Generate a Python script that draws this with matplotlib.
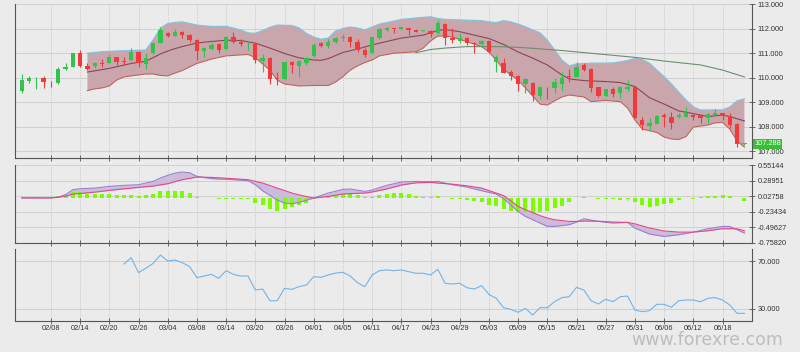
import numpy as np
import matplotlib
matplotlib.use("Agg")
import matplotlib.pyplot as plt
from matplotlib.transforms import blended_transform_factory

plt.rcParams["font.family"] = ["Liberation Sans", "DejaVu Sans"]

# daily candles, index 0..99
OPEN = [109.47, 109.86, 109.98, 109.97, 109.84, 109.79, 110.34, 110.45, 111.00, 110.48,
        110.48, 110.61, 110.61, 110.84, 110.68, 110.72, 111.06, 110.56, 111.00, 111.41,
        111.81, 111.72, 111.85, 111.74, 111.54, 111.10, 111.17, 111.36, 111.16, 111.67,
        111.47, 111.40, 111.38, 110.69, 110.79, 110.00, 109.93, 110.63, 110.48, 110.59,
        110.90, 111.40, 111.29, 111.45, 111.63, 111.67, 111.47, 111.13, 111.00, 111.61,
        111.95, 112.02, 111.98, 112.03, 111.95, 111.91, 111.92, 111.84, 112.19, 111.61,
        111.50, 111.61, 111.43, 111.36, 111.51, 110.65, 110.61, 110.24, 110.08, 109.74,
        109.79, 109.25, 109.62, 109.57, 109.72, 110.07, 110.04, 110.52, 110.34, 109.61,
        109.25, 109.53, 109.36, 109.53, 109.61, 108.27, 108.02, 108.10, 108.47, 108.40,
        108.40, 108.40, 108.47, 108.47, 108.34, 108.47, 108.54, 108.43, 108.10, 107.27]
HIGH = [110.15, 110.07, 110.03, 110.07, 109.87, 110.42, 110.61, 111.02, 111.13, 110.59,
        110.63, 110.76, 110.96, 110.86, 110.83, 111.23, 111.10, 111.02, 111.45, 112.06,
        111.87, 112.01, 111.90, 111.79, 111.57, 111.27, 111.40, 111.40, 111.70, 111.88,
        111.57, 111.44, 111.47, 110.95, 110.86, 110.24, 110.65, 110.69, 110.72, 110.86,
        111.40, 111.47, 111.57, 111.65, 111.77, 111.70, 111.57, 111.20, 111.67, 112.02,
        112.08, 112.04, 112.08, 112.04, 111.97, 111.95, 111.95, 112.36, 112.22, 112.02,
        111.81, 111.65, 111.47, 111.54, 111.54, 110.93, 110.79, 110.31, 110.11, 109.97,
        109.84, 109.66, 109.63, 109.97, 110.24, 110.34, 110.65, 110.59, 110.38, 109.63,
        109.55, 109.61, 109.66, 109.90, 109.63, 108.40, 108.34, 108.47, 108.57, 108.61,
        108.57, 108.79, 108.51, 108.50, 108.54, 108.70, 108.57, 108.54, 108.13, 107.33]
LOW = [109.38, 109.79, 109.52, 109.59, 109.63, 109.74, 110.31, 110.42, 110.42, 110.31,
       110.40, 110.42, 110.59, 110.52, 110.52, 110.69, 110.42, 110.35, 110.97, 111.40,
       111.68, 111.69, 111.61, 111.47, 110.72, 110.86, 111.15, 111.00, 111.13, 111.40,
       111.29, 111.13, 110.59, 110.24, 109.73, 109.70, 109.90, 110.18, 110.04, 110.52,
       110.86, 111.24, 111.20, 111.40, 111.51, 111.27, 111.06, 110.83, 110.97, 111.57,
       111.92, 111.81, 111.95, 111.74, 111.85, 111.89, 111.67, 111.78, 111.34, 111.40,
       111.40, 111.34, 111.02, 111.34, 111.02, 110.24, 110.18, 109.90, 109.47, 109.36,
       109.06, 109.11, 109.11, 109.38, 109.47, 109.84, 110.01, 110.29, 109.43, 109.22,
       109.22, 109.20, 109.16, 109.47, 108.34, 107.86, 107.86, 108.10, 108.00, 107.89,
       108.34, 108.38, 108.27, 108.13, 108.13, 108.45, 108.27, 107.93, 107.18, 107.26]
CLOSE = [109.90, 109.97, 110.00, 109.81, 109.82, 110.35, 110.45, 111.00, 110.48, 110.35,
         110.61, 110.56, 110.86, 110.65, 110.63, 111.06, 110.59, 110.79, 111.41, 111.95,
         111.72, 111.85, 111.74, 111.54, 111.10, 111.20, 111.34, 111.13, 111.67, 111.47,
         111.38, 111.42, 110.72, 110.79, 109.93, 109.93, 110.63, 110.52, 110.69, 110.79,
         111.34, 111.31, 111.47, 111.63, 111.65, 111.47, 111.13, 110.93, 111.65, 111.99,
         112.04, 112.00, 112.06, 111.95, 111.88, 111.93, 111.78, 112.22, 111.61, 111.54,
         111.63, 111.40, 111.36, 111.50, 111.06, 110.86, 110.20, 110.07, 109.74, 109.93,
         109.29, 109.61, 109.60, 109.84, 110.00, 110.02, 110.45, 110.31, 109.56, 109.25,
         109.53, 109.33, 109.61, 109.61, 108.34, 108.06, 108.13, 108.43, 108.38, 108.16,
         108.47, 108.54, 108.38, 108.34, 108.51, 108.54, 108.43, 108.06, 107.29, 107.31]
LAST_PRICE = 107.288

DATE_LABELS = ["02/08", "02/14", "02/20", "02/26", "03/04", "03/08", "03/14", "03/20",
               "03/26", "04/01", "04/05", "04/11", "04/17", "04/23", "04/29", "05/03",
               "05/09", "05/15", "05/21", "05/27", "05/31", "06/06", "06/12", "06/18"]
DATE_IDX = list(range(4, 100, 4))

# bollinger bands and long moving average (read at the listed candles)
BB_UP_IDX = [9, 11, 13, 15, 17, 18, 19, 20, 21, 22, 24, 26, 28, 30, 31, 32, 33, 34, 35, 37,
             38, 39, 40, 41, 42, 43, 44, 45, 46, 47, 48, 49, 50, 52, 54, 56, 57, 58, 60, 63,
             64, 65, 66, 67, 68, 69, 70, 71, 72, 73, 74, 75, 76, 78, 81, 83, 84, 85, 86, 87,
             88, 89, 90, 91, 92, 93, 95, 96, 97, 98, 99]
BB_UP = [111.00, 111.06, 111.09, 111.11, 111.13, 111.54, 112.02, 112.21, 112.26, 112.28,
         112.15, 112.09, 112.10, 111.95, 111.83, 111.81, 111.93, 112.06, 112.15, 112.13,
         112.03, 111.81, 111.66, 111.57, 111.62, 111.91, 112.01, 112.07, 112.03, 111.95,
         112.07, 112.19, 112.25, 112.38, 112.44, 112.49, 112.42, 112.38, 112.36, 112.33,
         112.28, 112.25, 112.33, 112.28, 112.19, 112.08, 111.95, 111.83, 111.54, 111.13,
         110.72, 110.48, 110.56, 110.59, 110.60, 110.70, 110.79, 110.74, 110.59, 110.31,
         110.04, 109.74, 109.41, 109.09, 108.80, 108.68, 108.68, 108.68, 108.80, 109.05,
         109.13]
BB_LO_IDX = [9, 10, 11, 12, 13, 14, 15, 16, 17, 18, 19, 20, 21, 22, 23, 24, 26, 28, 30, 31,
             32, 33, 34, 35, 36, 38, 40, 42, 43, 44, 45, 46, 47, 48, 49, 51, 54, 55, 56, 57,
             58, 59, 61, 63, 64, 65, 66, 67, 68, 69, 70, 71, 72, 73, 74, 75, 77, 78, 80, 82,
             83, 84, 85, 87, 88, 89, 90, 91, 92, 94, 95, 96, 97, 98, 99]
BB_LO = [109.47, 109.54, 109.58, 109.66, 109.90, 110.03, 110.07, 110.11, 110.15, 110.15,
         110.09, 110.07, 110.19, 110.29, 110.44, 110.58, 110.76, 110.89, 110.93, 110.95,
         110.82, 110.56, 110.31, 109.90, 109.74, 109.66, 109.68, 109.68, 109.82, 110.04,
         110.31, 110.48, 110.62, 110.72, 110.89, 111.00, 111.06, 111.21, 111.50, 111.70,
         111.70, 111.66, 111.47, 111.27, 111.05, 110.72, 110.35, 110.11, 109.90, 109.58,
         109.25, 108.92, 108.88, 109.05, 109.21, 109.29, 109.21, 109.02, 109.07, 109.02,
         108.76, 108.27, 107.90, 107.76, 107.57, 107.49, 107.47, 107.59, 107.98, 108.06,
         108.15, 108.17, 107.90, 107.41, 107.16]
BB_MID_IDX = [9, 12, 15, 17, 18, 19, 20, 21, 22, 24, 26, 28, 30, 32, 34, 36, 38, 40, 41, 42,
              44, 46, 48, 50, 52, 55, 57, 58, 60, 62, 64, 66, 68, 70, 72, 74, 75, 77, 80, 82,
              84, 86, 88, 90, 92, 94, 96, 97, 99]
BB_MID = [110.23, 110.38, 110.58, 110.67, 110.82, 110.97, 111.09, 111.19, 111.27, 111.42,
          111.48, 111.53, 111.52, 111.41, 111.21, 110.99, 110.81, 110.72, 110.71, 110.78,
          111.03, 111.17, 111.34, 111.48, 111.62, 111.74, 111.93, 111.97, 111.88, 111.74,
          111.60, 111.36, 111.05, 110.80, 110.52, 110.11, 109.95, 109.88, 109.84, 109.80,
          109.64, 109.18, 108.92, 108.64, 108.53, 108.41, 108.47, 108.41, 108.23]
MA_IDX = [54, 56, 58, 61, 65, 68, 70, 74, 79, 84, 88, 93, 96, 99]
MA_LONG = [111.02, 111.15, 111.21, 111.27, 111.27, 111.24, 111.20, 111.11, 110.97, 110.83,
           110.68, 110.52, 110.31, 110.03]

# MACD panel
MACD_IDX = [0, 4, 5, 6, 7, 8, 10, 12, 14, 16, 18, 19, 20, 21, 22, 23, 24, 26, 29, 31,
            32, 33, 35, 36, 37, 38, 40, 42, 44, 45, 47, 48, 50, 52, 54, 56, 57, 59, 61, 63,
            65, 66, 68, 69, 71, 72, 73, 75, 76, 77, 79, 81, 83, 84, 86, 88, 90, 92, 94, 96,
            97, 98, 99]
MACD = [0.0, 0.0, 0.014, 0.054, 0.138, 0.155, 0.166, 0.195, 0.212, 0.223,
        0.279, 0.336, 0.381, 0.420, 0.437, 0.426, 0.364, 0.325, 0.308, 0.291,
        0.223, 0.121, -0.037, -0.087, -0.099, -0.076, -0.003, 0.082, 0.144, 0.150,
        0.110, 0.133, 0.212, 0.268, 0.279, 0.274, 0.279, 0.223, 0.183, 0.121,
        0.065, -0.010, -0.229, -0.313, -0.426, -0.483, -0.483, -0.454, -0.409, -0.353,
        -0.398, -0.426, -0.415, -0.511, -0.612, -0.652, -0.624, -0.579, -0.522, -0.483,
        -0.483, -0.539, -0.595]
SIGNAL = [0.0, 0.0, 0.010, 0.030, 0.065, 0.075, 0.097, 0.127, 0.153, 0.177,
          0.200, 0.220, 0.240, 0.275, 0.308, 0.330, 0.353, 0.347, 0.325, 0.308,
          0.280, 0.251, 0.166, 0.124, 0.082, 0.050, -0.003, 0.025, 0.065, 0.072,
          0.082, 0.100, 0.150, 0.217, 0.255, 0.262, 0.251, 0.232, 0.204, 0.166,
          0.082, 0.040, -0.144, -0.200, -0.300, -0.341, -0.370, -0.398, -0.398, -0.392,
          -0.395, -0.409, -0.415, -0.440, -0.510, -0.560, -0.579, -0.579, -0.556, -0.522,
          -0.522, -0.522, -0.556]
HIST = [0.005, 0.005, 0.008, 0.005, 0.010, 0.028, 0.056, 0.096, 0.096, 0.073,
        0.068, 0.068, 0.068, 0.056, 0.051, 0.056, 0.040, 0.045, 0.068, 0.113,
        0.124, 0.124, 0.113, 0.085, 0.017, -0.006, -0.006, -0.011, -0.017, -0.017,
        -0.011, -0.011, -0.085, -0.124, -0.186, -0.226, -0.186, -0.158, -0.124, -0.085,
        -0.011, 0.011, 0.028, 0.056, 0.079, 0.079, 0.045, 0.017, 0.023, 0.056,
        0.073, 0.079, 0.079, 0.062, 0.040, 0.023, 0.023, 0.028, -0.006, -0.011,
        -0.023, -0.040, -0.051, -0.073, -0.119, -0.135, -0.192, -0.220, -0.231, -0.243,
        -0.265, -0.231, -0.214, -0.175, -0.130, -0.073, -0.006, 0.017, 0.006, -0.023,
        -0.023, -0.023, -0.028, -0.023, -0.073, -0.119, -0.147, -0.130, -0.107, -0.090,
        -0.034, -0.006, -0.017, 0.017, 0.028, 0.040, 0.056, 0.028, 0.006, -0.045]
MACD_TICKS = [0.55144, 0.28951, 0.02758, -0.23434, -0.49627, -0.75820]
MACD_TICK_LABELS = ["0.55144", "0.28951", "0.02758", "-0.23434", "-0.49627", "-0.75820"]

# RSI panel, starts at candle 14
RSI_START = 14
RSI = [67.5, 72.8, 60.2, 63.9, 68.0, 75.0, 70.0, 70.8, 68.6, 65.3,
       56.0, 57.4, 58.8, 55.5, 61.9, 58.8, 57.4, 57.4, 45.7, 46.5,
       36.7, 36.7, 47.1, 46.2, 48.5, 49.9, 56.9, 56.3, 58.3, 59.9,
       60.5, 57.4, 51.8, 48.5, 58.3, 61.9, 62.5, 61.9, 62.5, 61.1,
       59.7, 59.7, 58.3, 63.0, 51.3, 50.7, 51.3, 47.6, 46.5, 49.3,
       42.0, 38.7, 30.9, 29.5, 27.0, 30.3, 24.7, 30.9, 30.9, 35.9,
       39.3, 40.1, 47.9, 45.7, 36.7, 33.9, 37.9, 35.9, 40.1, 40.6,
       28.9, 27.5, 28.4, 33.7, 33.7, 31.2, 36.7, 37.3, 37.3, 35.9,
       38.7, 39.3, 37.3, 33.1, 26.1, 26.1]

BG = "#ebebeb"
AXIS = "#555555"
GRID = "#d0d0d0"
TEXT = "#333333"
GREEN = "#33c24d"
RED = "#f23a3a"
FS = 5.3


def style_panel(ax, yticks, ylabels, ylim, show_dates=False):
    ax.set_facecolor(BG)
    ax.set_xlim(-0.92, 100.04)
    ax.set_ylim(*ylim)
    ax.spines["top"].set_visible(False)
    for s in ("left", "bottom", "right"):
        ax.spines[s].set_color(AXIS)
        ax.spines[s].set_linewidth(0.8)
    ax.yaxis.tick_right()
    ax.set_yticks(yticks)
    ax.set_yticklabels(ylabels)
    ax.set_xticks(DATE_IDX)
    ax.set_xticklabels(DATE_LABELS if show_dates else [])
    ax.tick_params(direction="inout", length=4, width=0.6, color=AXIS,
                   labelsize=FS, labelcolor=TEXT, pad=2)
    ax.tick_params(axis="x", pad=1)
    ax.grid(axis="x", color="#c6c6c6", linestyle=(0, (1.5, 1.5)), linewidth=0.6)
    ax.grid(axis="y", color=GRID, linewidth=0.7)
    ax.set_axisbelow(True)


fig = plt.figure(figsize=(8.0, 3.52), dpi=100, facecolor=BG)
left, width = 15 / 800, 737 / 800
ax1 = fig.add_axes([left, 1 - 158 / 352, width, 153.7 / 352])
ax2 = fig.add_axes([left, 1 - 242.7 / 352, width, 77.4 / 352])
ax3 = fig.add_axes([left, 1 - 321 / 352, width, 72 / 352])

# price panel
price_ticks = [107, 108, 109, 110, 111, 112, 113]
style_panel(ax1, price_ticks, [f"{t:.3f}" for t in price_ticks], (106.714, 113.0))

band_x = BB_UP_IDX + BB_LO_IDX[::-1]
band_y = BB_UP + BB_LO[::-1]
ax1.fill(band_x, band_y, color="#c9a6ac", lw=0, zorder=1)
ax1.plot(BB_UP_IDX, BB_UP, color="#84c3da", lw=0.9, zorder=2)
ax1.plot(BB_LO_IDX, BB_LO, color="#c2625e", lw=0.8, zorder=2)
ax1.plot(BB_MID_IDX, BB_MID, color="#8a4656", lw=0.8, zorder=2)
ax1.plot(MA_IDX, MA_LONG, color="#6f8c70", lw=0.8, zorder=2)

o, h, l, c = map(np.array, (OPEN, HIGH, LOW, CLOSE))
x = np.arange(len(c))
cols = np.where(c >= o, GREEN, RED)
ax1.vlines(x, l, h, colors=cols, lw=0.8, zorder=3)
ax1.bar(x, np.maximum(np.abs(c - o), 0.02), bottom=np.minimum(o, c), width=0.58,
        color=cols, lw=0, zorder=4)

trans = blended_transform_factory(ax1.transAxes, ax1.transData)
ax1.text(1.003, LAST_PRICE, f"{LAST_PRICE:.3f}", transform=trans, ha="left", va="center",
         fontsize=FS, color="white", clip_on=False, zorder=10,
         bbox=dict(boxstyle="square,pad=0.18", fc="#35c035", ec="none"))

# MACD panel
style_panel(ax2, MACD_TICKS, MACD_TICK_LABELS, (-0.75820, 0.55144))
ax2.fill_between(MACD_IDX, MACD, SIGNAL, color="#cdbbdd", lw=0, zorder=1)
ax2.bar(x, HIST, width=0.55, color="#7cfc00", lw=0, zorder=2)
ax2.plot(MACD_IDX, MACD, color="#9b7fd0", lw=0.8, zorder=3)
ax2.plot(MACD_IDX, SIGNAL, color="#e04a86", lw=0.8, zorder=3)

# RSI panel
style_panel(ax3, [30, 70], ["30.000", "70.000"], (19.7, 80.06), show_dates=True)
ax3.plot(np.arange(RSI_START, RSI_START + len(RSI)), RSI, color="#74b3e6", lw=0.8)

fig.text(0.884, 0.0185, "www.forexre.com", ha="center", va="baseline", fontsize=12.5,
         color="#bdbdbd", family="DejaVu Sans")

fig.savefig("out.png", dpi=100, facecolor=BG)
